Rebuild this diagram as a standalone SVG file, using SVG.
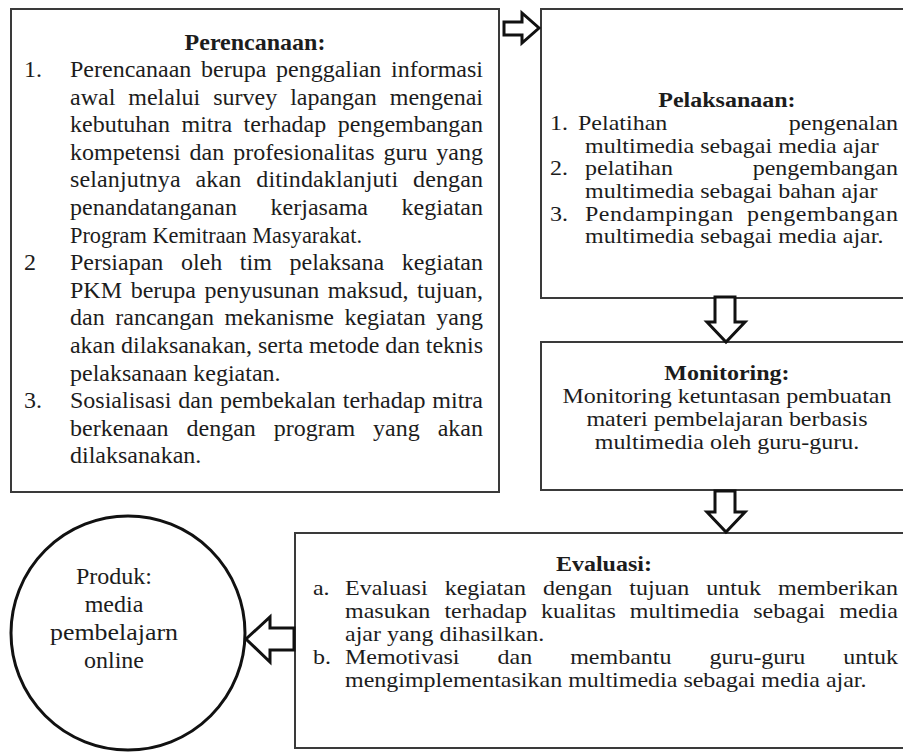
<svg xmlns="http://www.w3.org/2000/svg" width="903" height="753" viewBox="0 0 903 753">
<style>
.box{fill:#ffffff;stroke:#3a3a3a;stroke-width:2}
.circ{fill:#ffffff;stroke:#111111;stroke-width:3}
.arr{fill:#ffffff;stroke:#111111;stroke-width:3;stroke-linejoin:miter}
text{font-family:"Liberation Serif","Times New Roman",serif;font-size:24px;fill:#1c1c1c}
.s text{font-size:20px}
.t{font-weight:bold;text-anchor:middle}
.c{text-anchor:middle}
</style>
<rect x="0" y="0" width="903" height="753" fill="#ffffff"/>
<g id="node-perencanaan">
<rect class="box" x="11" y="9" width="488" height="483"/>
<text class="t" x="255" y="50">Perencanaan:</text>
<text x="24" y="77">1.</text>
<text x="70" y="77" word-spacing="3.7" textLength="413" lengthAdjust="spacing">Perencanaan berupa penggalian informasi</text>
<text x="70" y="104.6" word-spacing="7" textLength="413" lengthAdjust="spacing">awal melalui survey lapangan mengenai</text>
<text x="70" y="132.2" word-spacing="5.5" textLength="413" lengthAdjust="spacing">kebutuhan mitra terhadap pengembangan</text>
<text x="70" y="159.8" word-spacing="2.9" textLength="413" lengthAdjust="spacing">kompetensi dan profesionalitas guru yang</text>
<text x="70" y="187.4" word-spacing="8.7" textLength="413" lengthAdjust="spacing">selanjutnya akan ditindaklanjuti dengan</text>
<text x="70" y="215" word-spacing="27.5" textLength="413" lengthAdjust="spacing">penandatanganan kerjasama kegiatan</text>
<text x="70" y="242.6" textLength="292" lengthAdjust="spacingAndGlyphs">Program Kemitraan Masyarakat.</text>
<text x="24" y="270.2">2</text>
<text x="70" y="270.2" word-spacing="11.6" textLength="413" lengthAdjust="spacing">Persiapan oleh tim pelaksana kegiatan</text>
<text x="70" y="297.8" word-spacing="2.6" textLength="413" lengthAdjust="spacing">PKM berupa penyusunan maksud, tujuan,</text>
<text x="70" y="325.4" word-spacing="4.6" textLength="413" lengthAdjust="spacing">dan rancangan mekanisme kegiatan yang</text>
<text x="70" y="353" textLength="413" lengthAdjust="spacing">akan dilaksanakan, serta metode dan teknis</text>
<text x="70" y="380.6">pelaksanaan kegiatan.</text>
<text x="24" y="408.2">3.</text>
<text x="70" y="408.2" word-spacing="1" textLength="413" lengthAdjust="spacing">Sosialisasi dan pembekalan terhadap mitra</text>
<text x="70" y="435.8" word-spacing="12" textLength="413" lengthAdjust="spacing">berkenaan dengan program yang akan</text>
<text x="70" y="463.4">dilaksanakan.</text>
</g>
<g id="node-pelaksanaan">
<rect class="box" x="541" y="9" width="380" height="289"/>
<g class="s" transform="scale(1.2 1)">
<text class="t" x="605.8" y="107">Pelaksanaan:</text>
<text x="458.3" y="130">1.</text>
<text x="481.7" y="130" word-spacing="96.2" textLength="266.7" lengthAdjust="spacing">Pelatihan pengenalan</text>
<text x="487.5" y="152.7">multimedia sebagai media ajar</text>
<text x="458.3" y="175.4">2.</text>
<text x="487.5" y="175.4" word-spacing="61.4" textLength="260.8" lengthAdjust="spacing">pelatihan pengembangan</text>
<text x="487.5" y="198.1">multimedia sebagai bahan ajar</text>
<text x="458.3" y="220.8">3.</text>
<text x="487.5" y="220.8" word-spacing="5.8" textLength="260.8" lengthAdjust="spacing">Pendampingan pengembangan</text>
<text x="487.5" y="243.5">multimedia sebagai media ajar.</text>
</g>
</g>
<g id="node-monitoring">
<rect class="box" x="541" y="342" width="380" height="148"/>
<g class="s" transform="scale(1.2 1)">
<text class="t" x="605.8" y="380">Monitoring:</text>
<text class="c" x="605.8" y="403">Monitoring ketuntasan pembuatan</text>
<text class="c" x="605.8" y="426">materi pembelajaran berbasis</text>
<text class="c" x="605.8" y="449">multimedia oleh guru-guru.</text>
</g>
</g>
<g id="node-evaluasi">
<rect class="box" x="295" y="533" width="626" height="215"/>
<g class="s" transform="scale(1.2 1)">
<text class="t" x="503.3" y="571">Evaluasi:</text>
<text x="260.8" y="595">a.</text>
<text x="287.5" y="595" word-spacing="9.2" textLength="460.8" lengthAdjust="spacing">Evaluasi kegiatan dengan tujuan untuk memberikan</text>
<text x="287.5" y="618" word-spacing="6.7" textLength="460.8" lengthAdjust="spacing">masukan terhadap kualitas multimedia sebagai media</text>
<text x="287.5" y="641">ajar yang dihasilkan.</text>
<text x="260.8" y="664">b.</text>
<text x="287.5" y="664" word-spacing="26.7" textLength="460.8" lengthAdjust="spacing">Memotivasi dan membantu guru-guru untuk</text>
<text x="287.5" y="687">mengimplementasikan multimedia sebagai media ajar.</text>
</g>
</g>
<g id="node-produk">
<circle class="circ" cx="128" cy="633" r="117"/>
<text class="c" x="114" y="584">Produk:</text>
<text class="c" x="114" y="612">media</text>
<text class="c" x="114" y="640" textLength="128" lengthAdjust="spacingAndGlyphs">pembelajarn</text>
<text class="c" x="114" y="668">online</text>
</g>
<g id="connectors">
<polygon class="arr" points="504,22 522,22 522,13 539,28 522,43 522,35 504,35"/>
<polygon class="arr" points="715,297 735,297 735,322 745,322 726,342 707,322 715,322"/>
<polygon class="arr" points="715,491 735,491 735,512 745,512 726,532 707,512 715,512"/>
<polygon class="arr" points="294,628 270,628 270,617 246,639 270,662 270,650 294,650"/>
</g>
</svg>
